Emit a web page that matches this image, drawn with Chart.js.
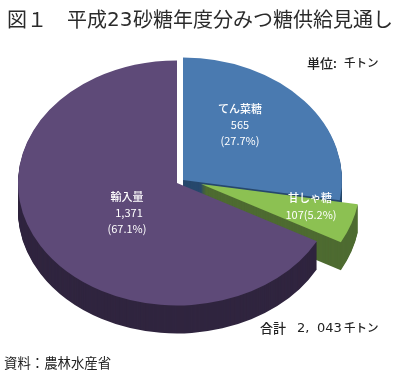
<!DOCTYPE html>
<html lang="ja">
<head>
<meta charset="utf-8">
<style>
    html, body { margin: 0; padding: 0; background: #fff; }
    canvas { display: block; }
</style>
<script src="https://cdn.jsdelivr.net/npm/chart.js@4"></script>
</head>
<body>
<canvas id="sugarChart" width="399" height="377"></canvas>
<script>
var categories = ['てん菜糖', '甘しゃ糖', '輸入量'];
var values = [565, 107, 1371];
var valueLabels = ['565', '107', '1,371'];
var shareLabels = ['(27.7%)', '(5.2%)', '(67.1%)'];

var titleHead = '図１　平成';
var titleYear = '23';
var titleTail = '砂糖年度分みつ糖供給見通し';
var unitName = '単位:';
var unitText = '千トン';
var totalName = '合計';
var totalHigh = '2,';
var totalLow = '043';
var sourceText = '資料：農林水産省';

var topColors = ['#4a7ab0', '#8cc152', '#5e4a78'];
var sideColors = ['#27486c', '#4e6b31', '#30253f'];

var jpFont = '"Noto Sans CJK JP", "Noto Sans", sans-serif';
var numFont = '"DejaVu Sans", sans-serif';
var tilt = 0.77;    // squash of the pie, fake 3d
var depth = 28;
// how far each slice is pulled out, px
var explode = [[3, -2], [21, 2], [-3, 1]];

function drawArcAt(chart, el, shift, down) {
    var ctx = chart.ctx;
    var area = chart.chartArea;
    var cx = (area.left + area.right) / 2;
    var cy = (area.top + area.bottom) / 2;
    ctx.save();
    ctx.translate(cx + shift[0], cy + shift[1] + down);
    ctx.scale(1, tilt);
    ctx.translate(-cx, -cy);
    el.draw(ctx);
    ctx.restore();
}

var tiltedPie = {
    id: 'tiltedPie',
    beforeDatasetsDraw: function (chart) {
        var arcs = chart.getDatasetMeta(0).data;
        arcs.forEach(function (el, i) {
            var top = el.options;
            el.options = Object.assign({}, top, { backgroundColor: sideColors[i], borderColor: sideColors[i] });
            for (var d = depth; d > 0; d--) {
                drawArcAt(chart, el, explode[i], d);
            }
            el.options = top;
            drawArcAt(chart, el, explode[i], 0);
        });
        return false;
    }
};

function put(ctx, text, x, y, font, color, align) {
    ctx.font = font;
    ctx.fillStyle = color;
    ctx.textAlign = align || 'left';
    ctx.textBaseline = 'middle';
    ctx.fillText(text, x, y);
}

var textLayer = {
    id: 'textLayer',
    afterDraw: function (chart) {
        var ctx = chart.ctx;
        var small = '11px ' + jpFont;
        ctx.save();
        put(ctx, titleHead, 7, 19, '20px ' + jpFont, '#2b2b2b');
        put(ctx, titleYear, 107, 21, '20px ' + numFont, '#2b2b2b');
        put(ctx, titleTail, 133, 19, '20px ' + jpFont, '#2b2b2b');

        put(ctx, unitName, 307, 63, '500 13px ' + jpFont, '#222');
        put(ctx, unitText, 344, 63, '500 11.5px ' + jpFont, '#222');

        put(ctx, totalName, 260, 328, '500 13px ' + jpFont, '#222');
        put(ctx, totalHigh, 297, 329, '13px ' + numFont, '#222');
        put(ctx, totalLow, 317, 329, '13px ' + numFont, '#222');
        put(ctx, unitText, 344, 328, '500 11.5px ' + jpFont, '#222');

        put(ctx, sourceText, 4, 363, '13.4px ' + jpFont, '#222');

        put(ctx, categories[0], 240, 109, '500 ' + small, '#fff', 'center');
        put(ctx, valueLabels[0], 240, 125, small, '#fff', 'center');
        put(ctx, shareLabels[0], 240, 141, small, '#fff', 'center');

        put(ctx, categories[1], 310, 198, '500 ' + small, '#fff', 'center');
        put(ctx, valueLabels[1] + shareLabels[1], 311, 215, small, '#fff', 'center');

        put(ctx, categories[2], 127, 197, '500 ' + small, '#fff', 'center');
        put(ctx, valueLabels[2], 129, 213, small, '#fff', 'center');
        put(ctx, shareLabels[2], 127, 229, small, '#fff', 'center');
        ctx.restore();
    }
};

new Chart(document.getElementById('sugarChart').getContext('2d'), {
    type: 'pie',
    data: {
        labels: categories,
        datasets: [{
            data: values,
            backgroundColor: topColors,
            borderWidth: 0
        }]
    },
    options: {
        responsive: false,
        animation: false,
        layout: { padding: { left: 21, right: 60, top: 23, bottom: 36 } },
        plugins: {
            legend: { display: false },
            tooltip: { enabled: false }
        }
    },
    plugins: [tiltedPie, textLayer]
});
</script>
</body>
</html>
